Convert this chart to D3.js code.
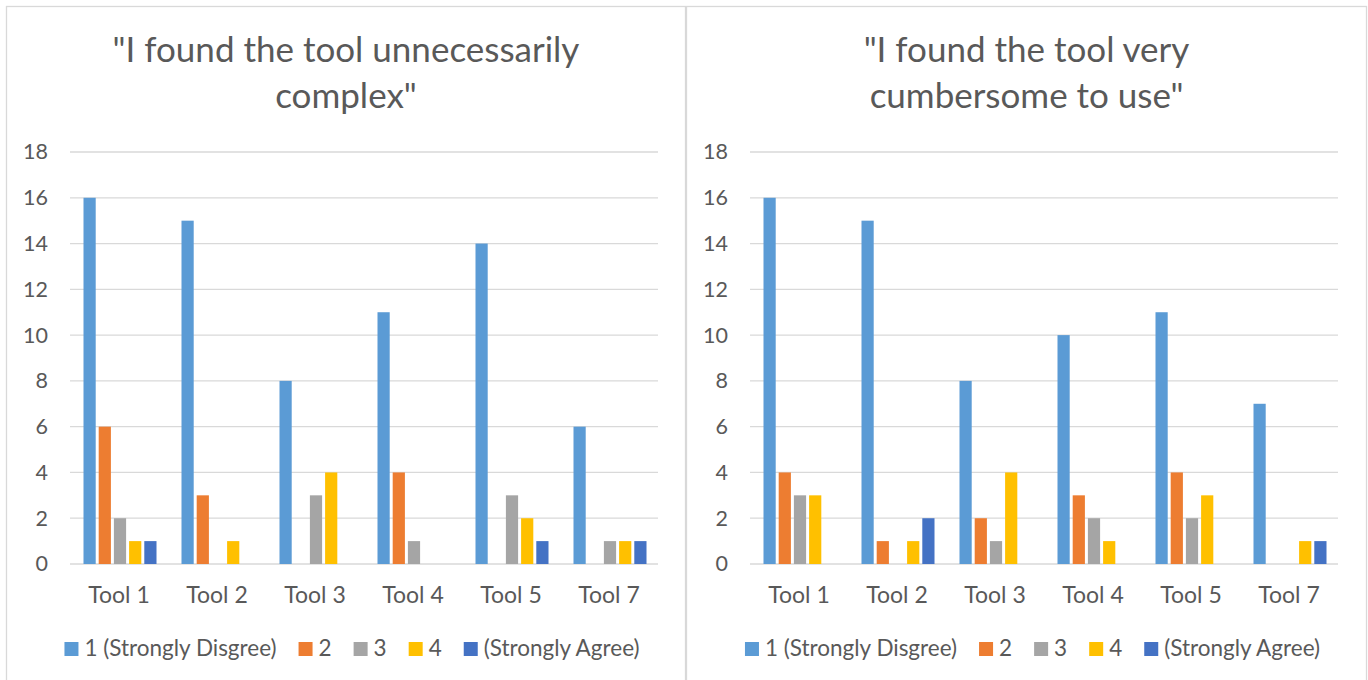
<!DOCTYPE html>
<html>
<head>
<meta charset="utf-8">
<script src="https://cdn.jsdelivr.net/npm/d3@7"></script>
<style>
  html, body { margin: 0; padding: 0; background: #fff; }
  svg { display: block; }
  text { font-family: Lato, "Open Sans", sans-serif; fill: #595959; }
</style>
</head>
<body>
<svg id="chart" width="1368" height="680"></svg>
<script>
// Survey responses per tool, one array per Likert level
const tools = ["Tool 1", "Tool 2", "Tool 3", "Tool 4", "Tool 5", "Tool 7"];
const levels = ["1 (Strongly Disgree)", "2", "3", "4", "(Strongly Agree)"];
const levelColors = ["#5B9BD5", "#ED7D31", "#A5A5A5", "#FFC000", "#4472C4"];
const yTicks = [0, 2, 4, 6, 8, 10, 12, 14, 16, 18];

// "I found the tool unnecessarily complex"
const complexTitle = ["\"I found the tool unnecessarily", "complex\""];
const complex1 = [16, 15, 8, 11, 14, 6];
const complex2 = [6, 3, 0, 4, 0, 0];
const complex3 = [2, 0, 3, 1, 3, 1];
const complex4 = [1, 1, 4, 0, 2, 1];
const complex5 = [1, 0, 0, 0, 1, 1];

// "I found the tool very cumbersome to use"
const cumberTitle = ["\"I found the tool very", "cumbersome to use\""];
const cumber1 = [16, 15, 8, 10, 11, 7];
const cumber2 = [4, 1, 2, 3, 4, 0];
const cumber3 = [3, 0, 1, 2, 2, 0];
const cumber4 = [3, 1, 4, 1, 3, 1];
const cumber5 = [0, 2, 0, 0, 0, 1];

const svg = d3.select("#chart");

function drawPanel(left, width, titleLines, series) {
  const g = svg.append("g").attr("transform", `translate(${left},0)`);

  // chart frame
  g.append("rect")
    .attr("x", 0.5).attr("y", 6.5)
    .attr("width", width - 1).attr("height", 700)
    .attr("fill", "#fff").attr("stroke", "#D9D9D9").attr("stroke-width", 1.3);

  // title
  g.append("text")
    .attr("x", width / 2).attr("y", 62)
    .attr("text-anchor", "middle")
    .style("font-size", "35px")
    .selectAll("tspan").data(titleLines).join("tspan")
    .attr("x", width / 2)
    .attr("dy", (d, i) => i === 0 ? 0 : 46)
    .text(d => d);

  const plotL = 64, plotR = 652;
  const y = d3.scaleLinear().domain([0, 18]).range([564, 152]);
  const x0 = d3.scaleBand().domain(tools).range([plotL, plotR]).padding(0);
  const x1 = d3.scaleBand().domain(d3.range(levels.length))
    .range([0, x0.bandwidth()]).paddingInner(0.197).paddingOuter(0.822);

  // horizontal gridlines
  g.append("g").selectAll("line").data(yTicks).join("line")
    .attr("x1", plotL).attr("x2", plotR)
    .attr("y1", d => y(d)).attr("y2", d => y(d))
    .attr("stroke", "#D9D9D9").attr("stroke-width", 1.3);

  // y axis labels
  const yAxis = d3.axisLeft(y).tickValues(yTicks).tickSize(0).tickPadding(0);
  const ya = g.append("g").attr("transform", `translate(${plotL - 22},0)`).call(yAxis);
  ya.select(".domain").remove();
  ya.selectAll("text").style("font-size", "21.5px").attr("fill", "#595959")
    .style("font-family", "Lato, sans-serif");

  // bars
  const rows = tools.map((t, i) => ({ tool: t, vals: series.map(s => s[i]) }));
  const grp = g.append("g").selectAll("g").data(rows).join("g")
    .attr("transform", d => `translate(${x0(d.tool)},0)`);
  grp.selectAll("rect")
    .data(d => d.vals.map((v, k) => ({ v, k })).filter(e => e.v > 0))
    .join("rect")
    .attr("x", d => x1(d.k) + 1)
    .attr("width", x1.bandwidth())
    .attr("y", d => y(d.v))
    .attr("height", d => y(0) - y(d.v))
    .attr("fill", d => levelColors[d.k]);

  // x axis labels
  const xAxis = d3.axisBottom(x0).tickSize(0).tickPadding(0);
  const xa = g.append("g").attr("transform", `translate(0,${y(0)})`).call(xAxis);
  xa.select(".domain").remove();
  xa.selectAll("text").attr("dy", null).attr("y", 39)
    .style("font-size", "23px").attr("fill", "#595959")
    .style("font-family", "Lato, sans-serif");

  // legend, laid out left-to-right and centred in the panel
  const lg = g.append("g");
  const items = lg.selectAll("g").data(levels).join("g");
  items.append("rect").attr("width", 14).attr("height", 14).attr("y", 642)
    .attr("fill", (d, i) => levelColors[i]);
  items.append("text").attr("x", 20).attr("y", 656)
    .style("font-size", "22.5px").text(d => d);
  let cx = 0;
  items.each(function () {
    const w = 20 + this.querySelector("text").getComputedTextLength();
    d3.select(this).attr("transform", `translate(${cx},0)`);
    cx += w + 22;
  });
  const total = cx - 22;
  lg.attr("transform", `translate(${width / 2 + 6 - total / 2},0)`);
}

drawPanel(6, 680, complexTitle, [complex1, complex2, complex3, complex4, complex5]);
drawPanel(686, 681, cumberTitle, [cumber1, cumber2, cumber3, cumber4, cumber5]);
</script>
</body>
</html>
